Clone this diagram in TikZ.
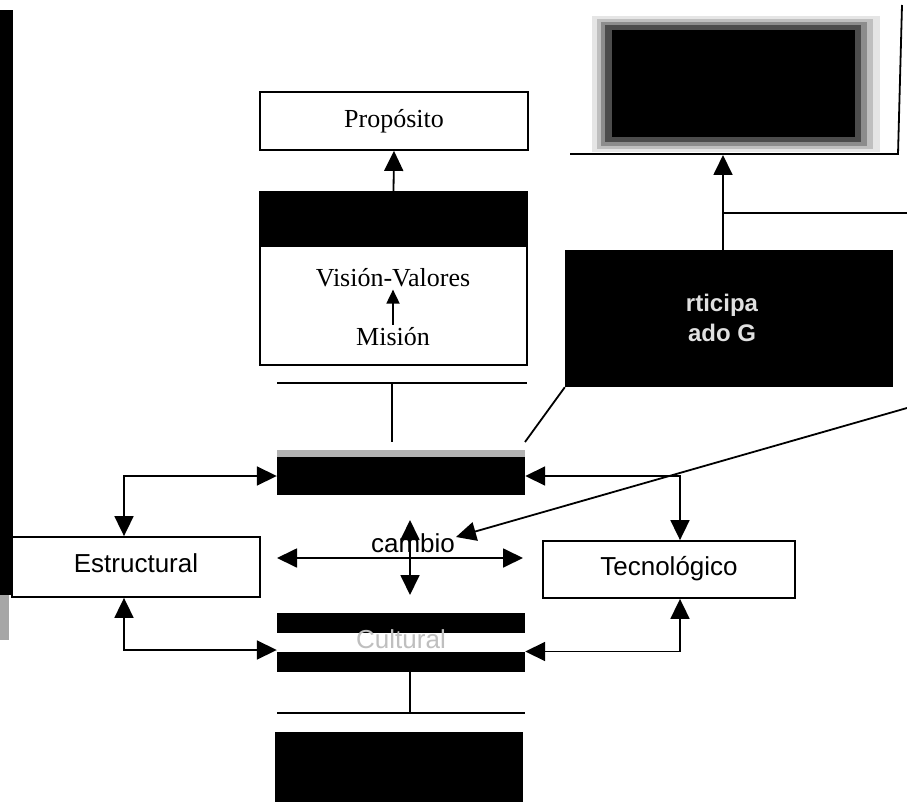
\documentclass[tikz,border=0pt]{standalone}
\usepackage{fontspec}
\setmainfont{Liberation Serif}
\setsansfont{Liberation Sans}
\usetikzlibrary{arrows.meta}
\begin{document}
\begin{tikzpicture}[x=1pt,y=-1pt,
  ln/.style={line width=1.8pt},
  tip/.style={-{Triangle[length=20pt,width=19pt]}},
  tips/.style={{Triangle[length=20pt,width=19pt]}-{Triangle[length=20pt,width=19pt]}},
  smalltip/.style={-{Triangle[length=14pt,width=13pt]}},
  box/.style={draw,line width=1.8pt,fill=white,inner sep=0pt},
  blk/.style={fill=black,inner sep=0pt},
  serif/.style={font=\fontsize{26}{30}\selectfont,inner sep=2pt},
  sans/.style={font=\sffamily\fontsize{26}{30}\selectfont,inner sep=2pt},
]
\fill[white] (0,0) rectangle (907,802);
\useasboundingbox (0,0) rectangle (907,802);

% left scan edge
\fill[black] (0,10) rectangle (13,595);
\fill[black!35] (0,595) rectangle (9,640);

% Proposito and mission block
\node[box, minimum width=268pt, minimum height=58pt] (prop) at (394,121) {};
\node[serif, anchor=base] (proptxt) at (394,128) {Propósito};
\node[box, minimum width=267pt, minimum height=173pt] (mvv) at (393.5,278.5) {};
\fill[black] (mvv.north west) rectangle ([yshift=-56pt]mvv.north east);
\node[serif, anchor=base] (vv) at (393,287) {Visión-Valores};
\node[serif, anchor=base] (mis) at (393,345) {Misión};
\draw[ln,smalltip] (mis.north) -- (vv.south);
\draw[ln,tip] (mvv.north) -- (prop.south);

% top right blurred block
\fill[black!10] (592,16) rectangle (880,152);
\fill[black!25] (597,19) rectangle (873,149);
\fill[black!45] (601,22) rectangle (867,146);
\fill[black!70] (605,25) rectangle (861,142);
\node[blk, minimum width=243pt, minimum height=107pt] (topbox) at (733.5,83.5) {};
\coordinate (tl) at (570,154);
\coordinate (tr) at (898,154);
\coordinate (tt) at (902,5);
\draw[ln] (tl) -- (tr) -- (tt);

% participation block
\node[blk, minimum width=328pt, minimum height=137pt] (part) at (729,318.5) {};
\node[font=\sffamily\bfseries\fontsize{24}{30}\selectfont, text=black!12, align=center] (parttxt) at (722,318) {rticipa\\ado G};
\coordinate (ax) at (723,155);
\draw[ln,tip] (ax |- part.north) -- (ax);
\coordinate (tj) at (723,213);
\coordinate (tje) at (907,213);
\draw[ln] (tj) -- (tje);
\coordinate (d1) at (525,442);
\draw[ln] (part.south west) -- (d1);

% line above bar 1
\coordinate (l1a) at (277,383);
\coordinate (l1b) at (527,383);
\draw[ln] (l1a) -- (l1b);
\coordinate (l1m) at (392,383);
\coordinate (l1d) at (392,442);
\draw[ln] (l1m) -- (l1d);

% bar 1
\fill[black!30] (277,450) rectangle (525,458);
\node[blk, minimum width=248pt, minimum height=38pt] (bar1) at (401,476) {};

% side boxes
\node[box, minimum width=248pt, minimum height=60pt] (est) at (136,567) {};
\node[sans, anchor=base] (esttxt) at (136,572) {Estructural};
\node[box, minimum width=252pt, minimum height=57pt] (tec) at (669,569.5) {};
\node[sans, anchor=base] (tectxt) at (669,575) {Tecnológico};

% cultural
\node[inner sep=0pt, minimum width=248pt, minimum height=59pt] (cult) at (401,642.5) {};
\fill[black] (cult.north west) rectangle ([yshift=-20pt]cult.north east);
\fill[black] ([yshift=20pt]cult.south west) rectangle (cult.south east);
\node[sans, anchor=base, text=black!25] (culttxt) at (401,648) {Cultural};

% connectors to side boxes
\draw[ln,tips] ([xshift=-12pt]est.north) |- (bar1.west);
\draw[ln,tips] ([xshift=-12pt]est.south) |- ([yshift=-7.5pt]cult.west);
\draw[ln,tips] ([xshift=11pt]tec.north) |- (bar1.east);
\draw[ln,tips] ([xshift=11pt]tec.south) |- ([yshift=-9pt]cult.east);

% cambio cross
\coordinate (ch1) at (277,558);
\coordinate (ch2) at (523,558);
\coordinate (cv1) at (410,520);
\coordinate (cv2) at (410,595);
\node[sans, anchor=base] (camb) at (413,552) {cambio};
\draw[ln,tips] (ch1) -- (ch2);
\draw[ln,tips] (cv1) -- (cv2);
\coordinate (ld) at (907,408);
\coordinate (ldt) at (456,537);
\draw[ln,tip] (ld) -- (ldt);

% bottom
\coordinate (l2m) at (410,713);
\draw[ln] (l2m |- cult.south) -- (l2m);
\coordinate (l2a) at (277,713);
\coordinate (l2b) at (525,713);
\draw[ln] (l2a) -- (l2b);
\node[blk, minimum width=248pt, minimum height=70pt] (bottom) at (399,767) {};
\end{tikzpicture}
\end{document}
